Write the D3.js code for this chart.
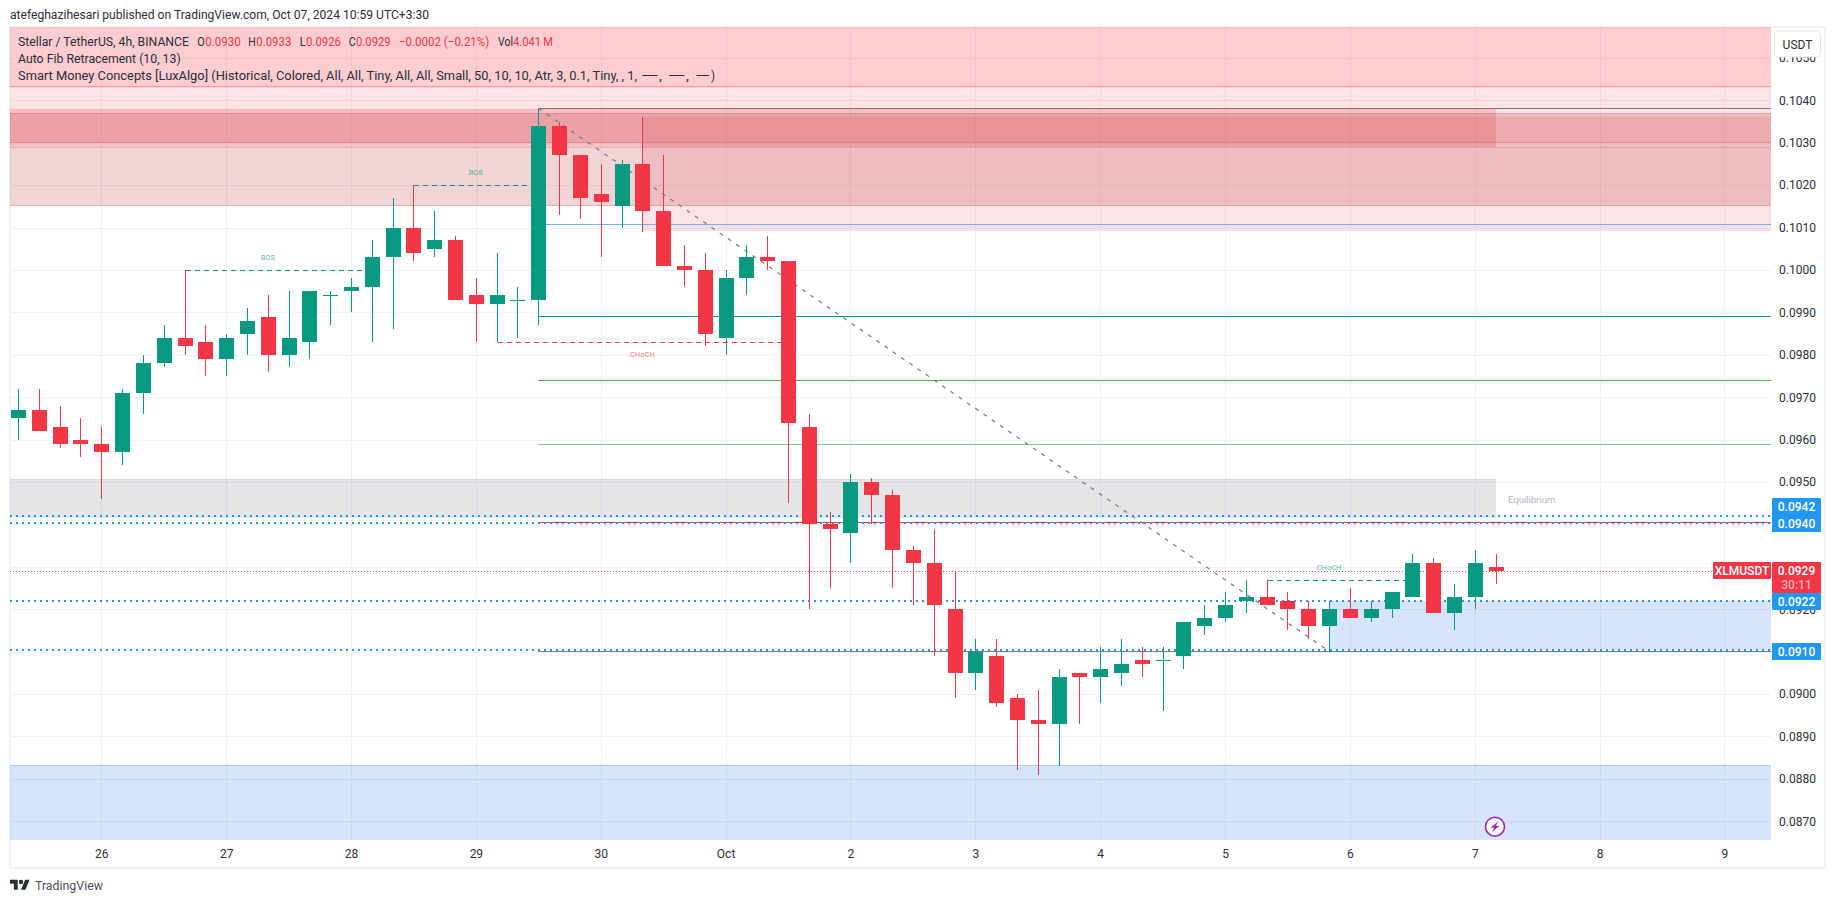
<!DOCTYPE html>
<html><head><meta charset="utf-8">
<script src="https://cdn.jsdelivr.net/npm/d3@7/dist/d3.min.js"></script>
<style>
html,body{margin:0;padding:0;background:#fff;overflow:hidden}
svg{display:block}
text{font-family:Roboto,"Noto Sans",sans-serif}
</style></head><body>
<svg id="c" width="1835" height="903"></svg>
<script>
const opens=[.0965,.0967,.0963,.0960,.0959,.0957,.0971,.0978,.0984,.0983,.0979,.0985,.0989,.0980,.0983,.0994,.0995,.0996,.1003,.1010,.1005,.1007,.0994,.0992,.0993,.0993,.1034,.1027,.1018,.1015,.1025,.1014,.1001,.1000,.0984,.0998,.1003,.1002,.0963,.0940,.0938,.0950,.0947,.0934,.0931,.0920,.0905,.0909,.0899,.0894,.0893,.0905,.0904,.0905,.0908,.0908,.0909,.0916,.0918,.0922,.0923,.0922,.0920,.0916,.0920,.0918,.0920,.0923,.0931,.0919,.0923,.0930];
const highs=[.0972,.0972,.0968,.0965,.0963,.0972,.0980,.0987,.1000,.0987,.0985,.0991,.0994,.0995,.0995,.0995,.0998,.1007,.1017,.1020,.1014,.1008,.0998,.1004,.0996,.1038,.1035,.1027,.1025,.1026,.1036,.1027,.1006,.1004,.1000,.1006,.1008,.1002,.0966,.0943,.0952,.0951,.0948,.0935,.0939,.0929,.0913,.0913,.0900,.0901,.0906,.0905,.0911,.0913,.0911,.0911,.0917,.0921,.0924,.0927,.0927,.0924,.0922,.0922,.0925,.0922,.0924,.0933,.0932,.0926,.0934,.0933];
const lows=[.0960,.0962,.0958,.0956,.0946,.0954,.0966,.0977,.0980,.0975,.0975,.0980,.0976,.0977,.0979,.0987,.0990,.0983,.0986,.1002,.1003,.0993,.0983,.0983,.0984,.0987,.1013,.1012,.1003,.1010,.1009,.1001,.0996,.0982,.0980,.0994,.1000,.0945,.0920,.0925,.0931,.0940,.0925,.0921,.0909,.0899,.0901,.0897,.0882,.0881,.0883,.0893,.0898,.0902,.0904,.0896,.0906,.0914,.0917,.0919,.0921,.0915,.0913,.0910,.0918,.0917,.0918,.0923,.0919,.0915,.0920,.0926];
const closes=[.0967,.0962,.0959,.0959,.0957,.0971,.0978,.0984,.0982,.0979,.0984,.0988,.0980,.0984,.0995,.0994,.0996,.1003,.1010,.1004,.1007,.0993,.0992,.0994,.0993,.1034,.1027,.1017,.1016,.1025,.1014,.1001,.1000,.0985,.0998,.1003,.1002,.0964,.0940,.0939,.0950,.0947,.0934,.0931,.0921,.0905,.0910,.0898,.0894,.0893,.0904,.0904,.0906,.0907,.0907,.0908,.0917,.0918,.0921,.0923,.0921,.0920,.0916,.0920,.0918,.0920,.0924,.0931,.0919,.0923,.0931,.0929];

const priceTicks=[.1050,.1040,.1030,.1020,.1010,.1000,.0990,.0980,.0970,.0960,.0950,.0930,.0920,.0900,.0890,.0880,.0870];
const gridPrices=[.1050,.1040,.1030,.1020,.1010,.1000,.0990,.0980,.0970,.0960,.0950,.0940,.0930,.0920,.0910,.0900,.0890,.0880,.0870];
const dayIndex=[4,10,16,22,28,34,40,46,52,58,64,70,76,82];
const dayLabels=["26","27","28","29","30","Oct","2","3","4","5","6","7","8","9"];

// supply / demand / premium zones: top price, bottom price, first bar (null = pane edge), last bar (null = pane edge)
const zoneTop=[null,.10431,.10431,.1038,.1036,.1037,.1029,.1030,.09507,.0922,.08833];
const zoneBottom=[.10431,.1029,.10092,.1029,.1030,.1030,.1015,.1029,.09416,.09103,null];
const zoneFrom=[null,null,30,null,30,null,null,30,null,63,null];
const zoneTo=[null,30,null,71,null,null,null,null,71,null,null];
const zoneFill=["rgba(242,54,69,.25)","rgba(242,54,69,.14)","rgba(242,54,69,.14)","rgba(242,54,69,.2)","rgba(242,54,69,.14)","rgba(178,40,51,.2)","rgba(178,40,51,.2)","rgba(178,40,51,.2)","rgba(120,123,134,.2)","rgba(49,121,245,.2)","rgba(49,121,245,.2)"];
const zoneEdge=["rgba(242,54,69,.2)","rgba(242,54,69,.1)","rgba(242,54,69,.1)","rgba(242,54,69,.1)","none","rgba(178,40,51,.2)","rgba(178,40,51,.2)","none","rgba(120,123,134,.1)","none","rgba(49,121,245,.25)"];

const fibPrices=[.10381,.10108,.09891,.0974,.09589,.09405,.09101];
const fibColors=["#787b86","#64b5f6","#089981","#4caf50","#81c784","#f23645","#787b86"];
const fibStartBar=25;
const fibDiagonalBars=[25,63];
const fibDiagonalPrices=[.10381,.09101];

const hLinePrices=[.0942,.09403,.0922,.09103];
const hLineLabels=["0.0942","0.0940","0.0922","0.0910"];

const structPrices=[.1000,.1020,.0983,.0927];
const structFrom=[8,19,23,60];
const structTo=[17,25,37,67];
const structLabels=["BOS","BOS","CHoCH","CHoCH"];
const structLabelBars=[12,22,30,63];
const structColors=["#089981","#089981","#f23645","#089981"];

const lastPrice=.0929;

const svg=d3.select("#c");
const pane={l:10,r:1771,t:27,b:840};
const y=d3.scaleLinear().domain([.1040,.0870]).range([100.3,821.3]);
const x=d3.scaleLinear().domain([0,1]).range([18.06,38.87]);
const RED="#f23645",GRN="#089981",DARK="#2a2e39";
const cx=i=>Math.round(x(i))+.5;

// frame
svg.append("rect").attr("x",10).attr("y",27).attr("width",1815).attr("height",841)
  .attr("fill","#fff").attr("stroke","#f0f3fa").attr("stroke-width",2);
svg.append("clipPath").attr("id","pane").append("rect").attr("x",pane.l).attr("y",pane.t)
  .attr("width",pane.r-pane.l).attr("height",pane.b-pane.t);
const g=svg.append("g").attr("clip-path","url(#pane)");

// grid
const gridG=g.append("g").attr("shape-rendering","crispEdges").attr("stroke","#f0f1f4").attr("stroke-width",1);
gridG.selectAll(".h").data(gridPrices).join("line")
  .attr("x1",pane.l).attr("x2",pane.r).attr("y1",d=>Math.round(y(d))+.5).attr("y2",d=>Math.round(y(d))+.5);
gridG.selectAll(".v").data(dayIndex).join("line")
  .attr("x1",d=>cx(d)).attr("x2",d=>cx(d)).attr("y1",pane.t).attr("y2",pane.b);

// zones
const zx=i=>[zoneFrom[i]==null?pane.l:cx(zoneFrom[i])-.5, zoneTo[i]==null?pane.r:cx(zoneTo[i])-.5];
g.append("g").attr("shape-rendering","crispEdges").selectAll("rect").data(zoneFill).join("rect")
  .each(function(f,i){
    const t=zoneTop[i]==null?pane.t:y(zoneTop[i]), b=zoneBottom[i]==null?pane.b:y(zoneBottom[i]);
    const [l,r]=zx(i);
    d3.select(this).attr("x",l).attr("y",Math.round(t)).attr("width",r-l).attr("height",Math.round(b)-Math.round(t)).attr("fill",f);
  });
g.append("g").attr("shape-rendering","crispEdges").selectAll("line").data(zoneEdge).join("line")
  .each(function(c,i){
    const t=zoneTop[i]==null?pane.t:y(zoneTop[i]), b=zoneBottom[i]==null?pane.b:y(zoneBottom[i]);
    const [l,r]=zx(i);
    const yy=zoneTop[i]==null?Math.round(b)-.5:Math.round(t)+.5;
    d3.select(this).attr("x1",l).attr("x2",r).attr("y1",yy).attr("y2",yy).attr("stroke",c);
  });
g.append("g").attr("shape-rendering","crispEdges").selectAll("line").data([0,5,6]).join("line")
  .each(function(i){
    const b=y(zoneBottom[i]);
    const [l,r]=zx(i);
    d3.select(this).attr("x1",l).attr("x2",r).attr("y1",Math.round(b)-.5).attr("y2",Math.round(b)-.5).attr("stroke",zoneEdge[i]);
  });

// fib levels
g.append("g").attr("shape-rendering","crispEdges").selectAll("line").data(fibPrices).join("line")
  .attr("x1",x(fibStartBar)).attr("x2",pane.r)
  .attr("y1",d=>Math.floor(y(d))+.5).attr("y2",d=>Math.floor(y(d))+.5)
  .attr("stroke",(d,i)=>fibColors[i]).attr("stroke-width",1);
g.append("line").attr("x1",x(fibDiagonalBars[0])).attr("x2",x(fibDiagonalBars[1]))
  .attr("y1",y(fibDiagonalPrices[0])).attr("y2",y(fibDiagonalPrices[1]))
  .attr("stroke","#787b86").attr("stroke-width",1.2).attr("stroke-dasharray","4 6");

// horizontal dotted blue levels
g.append("g").selectAll("line").data(hLinePrices).join("line")
  .attr("x1",pane.l).attr("x2",pane.r).attr("y1",d=>Math.round(y(d))).attr("y2",d=>Math.round(y(d)))
  .attr("stroke","#2196f3").attr("stroke-width",2).attr("stroke-dasharray","2 4");

// last price line
g.append("line").attr("x1",pane.l).attr("x2",1713).attr("y1",Math.round(y(lastPrice))+.5).attr("y2",Math.round(y(lastPrice))+.5)
  .attr("stroke",RED).attr("stroke-width",1).attr("stroke-dasharray","1 2").attr("shape-rendering","crispEdges");

// structure lines and labels
g.append("g").selectAll("line").data(structPrices).join("line")
  .attr("x1",(d,i)=>cx(structFrom[i])).attr("x2",(d,i)=>cx(structTo[i]))
  .attr("y1",d=>Math.round(y(d))+.5).attr("y2",d=>Math.round(y(d))+.5)
  .attr("stroke",(d,i)=>structColors[i]).attr("stroke-width",1).attr("stroke-dasharray","5 4").attr("shape-rendering","crispEdges");
g.append("g").selectAll("text").data(structLabels).join("text")
  .attr("x",(d,i)=>x(structLabelBars[i]))
  .attr("y",(d,i)=>structColors[i]===RED?y(structPrices[i])+14.5:y(structPrices[i])-10)
  .attr("text-anchor","middle").attr("font-size",7.5)
  .attr("fill",(d,i)=>structColors[i]).attr("fill-opacity",.7).text(d=>d);
g.append("text").attr("x",1508).attr("y",502.5).attr("font-size",9.5).attr("fill","#b2b5be").text("Equilibrium");

// candles
const candle=g.append("g").attr("shape-rendering","crispEdges").selectAll("g").data(opens).join("g");
const col=i=>closes[i]>=opens[i]?GRN:RED;
candle.append("line").attr("x1",(d,i)=>cx(i)).attr("x2",(d,i)=>cx(i))
  .attr("y1",(d,i)=>y(highs[i])).attr("y2",(d,i)=>y(lows[i]))
  .attr("stroke",(d,i)=>col(i));
candle.append("rect")
  .attr("x",(d,i)=>cx(i)-7.5).attr("width",15)
  .attr("y",(d,i)=>y(Math.max(opens[i],closes[i])))
  .attr("height",(d,i)=>Math.max(1,Math.abs(y(opens[i])-y(closes[i]))))
  .attr("fill",(d,i)=>col(i));

// axes
const ax=svg.append("g").attr("transform","translate(1770,0)")
  .call(d3.axisRight(y).tickValues(priceTicks).tickFormat(d3.format(".4f")).tickSize(0).tickPadding(9));
ax.select(".domain").remove();
ax.selectAll("text").attr("font-size",12).attr("font-family","Roboto").attr("fill",DARK);
const bx=svg.append("g").attr("transform","translate(0,849.5)")
  .call(d3.axisBottom(x).tickValues(dayIndex).tickFormat((d,i)=>dayLabels[i]).tickSize(0).tickPadding(0));
bx.select(".domain").remove();
bx.selectAll("text").attr("font-size",12).attr("font-family","Roboto").attr("fill",DARK);

// price tags
const tag=(x0,y0,w,h,fill)=>svg.append("rect").attr("x",x0).attr("y",y0).attr("width",w).attr("height",h).attr("rx",1).attr("fill",fill);
const tagText=(t,xx,yy,fill)=>svg.append("text").attr("x",xx).attr("y",yy).attr("text-anchor","middle")
  .attr("font-size",12).attr("font-weight",500).attr("fill",fill).text(t);
tag(1772,498,49,34,"#2196f3");
tagText(hLineLabels[0],1796.5,511,"#fff");
tagText(hLineLabels[1],1796.5,528,"#fff");
tag(1713,562,58,17,RED);
tagText("XLMUSDT",1742,575,"#fff");
tag(1772,562,49,31,RED);
tagText(d3.format(".4f")(lastPrice),1796.5,575,"#fff");
tagText("30:11",1796.5,589,"#ffb3b9");
tag(1772,593,49,17,"#2196f3");
tagText(hLineLabels[2],1796.5,606,"#fff");
tag(1772,643,49,17,"#2196f3");
tagText(hLineLabels[3],1796.5,656,"#fff");

// USDT button
svg.append("rect").attr("x",1774.5).attr("y",31).attr("width",46).attr("height",26).attr("rx",4)
  .attr("fill","#fff").attr("stroke","#e0e3eb");
svg.append("text").attr("x",1797.5).attr("y",48.5).attr("text-anchor","middle").attr("font-size",12).attr("fill",DARK).text("USDT");

// header + legend
const TXT="#2a2e39";
const fit=(t,xx,yy,w,fill)=>svg.append("text").attr("x",xx).attr("y",yy).attr("font-size",12.5).attr("fill",fill)
  .attr("textLength",w).attr("lengthAdjust","spacingAndGlyphs").text(t);
fit("atefeghazihesari published on TradingView.com, Oct 07, 2024 10:59 UTC+3:30",10,19,419,TXT);
fit("Stellar / TetherUS, 4h, BINANCE",18,46,171,TXT);
fit("O",197.3,46,7.5,TXT); fit("0.0930",205.3,46,35.5,RED);
fit("H",248.3,46,7.5,TXT); fit("0.0933",256.3,46,35,RED);
fit("L",299.7,46,6,TXT);   fit("0.0926",306,46,35,RED);
fit("C",348.7,46,7,TXT);   fit("0.0929",356,46,34.7,RED);
fit("\u22120.0002 (\u22120.21%)",399,46,90.3,RED);
fit("Vol",498,46,15,TXT);  fit("4.041\u2009M",513,46,40,RED);
fit("Auto Fib Retracement (10, 13)",18,63,162.7,TXT);
fit("Smart Money Concepts [LuxAlgo] (Historical, Colored, All, All, Tiny, All, All, Small, 50, 10, 10, Atr, 3, 0.1, Tiny, , 1,",18,80,619,TXT);
fit("\u2014",640.7,80,18,TXT); fit(",",659,80,3,TXT);
fit("\u2014",667.5,80,18,TXT); fit(",",686,80,3,TXT);
fit("\u2014",695,80,15,TXT);   fit(")",711,80,4,TXT);

// lightning icon
const ic=svg.append("g").attr("transform","translate(1495,826.7)");
ic.append("circle").attr("r",9.5).attr("fill","#fff").attr("stroke","#9c27b0").attr("stroke-width",1.6);
ic.append("path").attr("d","M3.5,-5.5 L-4.5,1 L-0.8,1 L-3,5.5 L4.5,-1 L0.8,-1 Z").attr("fill","#9c27b0");

// logo
const lg=svg.append("g").attr("transform","translate(10,877.6) scale(.55)").attr("fill","#2a2e39");
lg.append("path").attr("d","M14 22H7V11H0V4h14v18zM28 22h-8l7.5-18h8L28 22z");
lg.append("circle").attr("cx",20).attr("cy",8).attr("r",4);
fit("TradingView",35,890,68,"#4a4e59");
</script>
</body></html>
